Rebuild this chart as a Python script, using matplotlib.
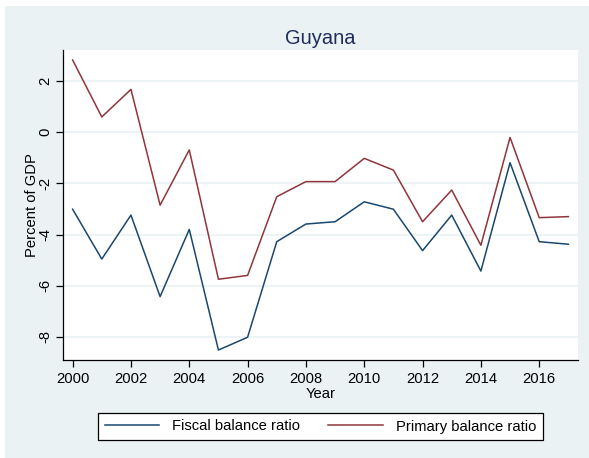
import matplotlib
matplotlib.use("Agg")
import matplotlib.pyplot as plt
from matplotlib.patches import Rectangle

years = list(range(2000, 2018))
fiscal = [-3.01, -4.96, -3.24, -6.43, -3.80, -8.52, -8.02, -4.28, -3.59, -3.50,
          -2.72, -3.01, -4.63, -3.24, -5.43, -1.19, -4.28, -4.38]
primary = [2.83, 0.60, 1.68, -2.85, -0.69, -5.75, -5.60, -2.52, -1.93, -1.93,
           -1.02, -1.48, -3.50, -2.26, -4.42, -0.20, -3.34, -3.30]
xticks = list(range(2000, 2018, 2))
yticks = [-8, -6, -4, -2, 0, 2]
title = "Guyana"
xlabel = "Year"
ylabel = "Percent of GDP"
series_names = ["Fiscal balance ratio", "Primary balance ratio"]

plt.rcParams['font.family'] = ['Liberation Sans', 'DejaVu Sans']
plt.rcParams['axes.unicode_minus'] = False

W, H = 589, 458
fig = plt.figure(figsize=(W / 100, H / 100), dpi=100)
fig.patch.set_facecolor('white')
bg = '#eaf2f3'
fig.add_artist(Rectangle((5 / W, 0), 1 - 5 / W, 1 - 6 / H, transform=fig.transFigure,
                         facecolor=bg, edgecolor='none', zorder=-10))

ax = fig.add_axes([63 / W, 1 - 360 / H, (577.7 - 63) / W, (360 - 50) / H])
ax.set_facecolor('white')
navy = '#1a476f'
maroon = '#90353b'
l1, = ax.plot(years, fiscal, color=navy, lw=1.1)
l2, = ax.plot(years, primary, color=maroon, lw=1.1)

ax.set_xlim(1999.67, 2017.32)
ax.set_ylim(-8.91, 3.22)
ax.set_xticks(xticks)
ax.set_yticks(yticks)
ax.grid(axis='y', color=bg, lw=1.2)
ax.set_axisbelow(True)
for s in ['top', 'right']:
    ax.spines[s].set_visible(False)
for s in ['left', 'bottom']:
    ax.spines[s].set_color('black')
    ax.spines[s].set_linewidth(0.9)
ax.tick_params(axis='both', direction='out', length=5, width=0.9, colors='black',
               labelsize=10.6)
ax.tick_params(axis='y', pad=3)
for lab in ax.get_yticklabels():
    lab.set_rotation(90)
    lab.set_va('center')
ax.set_ylabel(ylabel, fontsize=10.6, labelpad=-1)
ax.set_xlabel(xlabel, fontsize=10.6, labelpad=1)
fig.text(320 / W, 1 - 38 / H, title, ha='center', va='center', fontsize=14.5,
         color='#1e2d5c')

leg = fig.legend([l1, l2], series_names, ncol=2, loc='center',
                 bbox_to_anchor=(320.5 / W, 1 - 426.5 / H), fontsize=10.6,
                 frameon=True, fancybox=False, edgecolor='black', facecolor='white',
                 handlelength=3.7, handletextpad=0.9, columnspacing=1.9,
                 borderpad=0.45, framealpha=1)
leg.get_frame().set_linewidth(0.9)

fig.savefig('out.png', dpi=100)
